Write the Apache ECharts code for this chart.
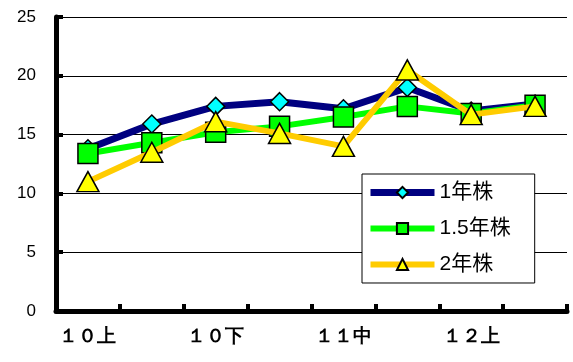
<!DOCTYPE html>
<html>
<head>
<meta charset="utf-8">
<script src="https://cdn.jsdelivr.net/npm/echarts@6/dist/echarts.min.js"></script>
<style>
  html, body { margin: 0; padding: 0; background: #fff; }
  #chart { width: 573px; height: 362px; }
</style>
</head>
<body>
<div id="chart"></div>
<script>
// Period categories (label shown every other period)
const categories = ['１０上', '１０中', '１０下', '１１上', '１１中', '１１下', '１２上', '１２中'];

// Values per planting age
const series1yr  = [13.8, 15.9, 17.4, 17.8, 17.2, 19.0, 17.0, 17.6];
const series15yr = [13.4, 14.3, 15.2, 15.7, 16.5, 17.4, 16.8, 17.5];
const series2yr  = [11.0, 13.5, 16.1, 15.1, 14.0, 20.5, 16.7, 17.4];

const seriesNames = ['1年株', '1.5年株', '2年株'];
const yTicks = [0, 5, 10, 15, 20, 25];

const legendFont = 'Liberation Sans, Arial, Noto Sans CJK JP, sans-serif';

const styles = [
  { line: '#000080', lw: 7, fill: '#00FFFF', symbol: 'diamond', size: 18 },
  { line: '#00FF00', lw: 6, fill: '#00FF00', symbol: 'rect', size: 20 },
  { line: '#FFCC00', lw: 6, fill: '#FFFF00', symbol: 'triangle', size: [22, 20] }
];
const values = [series1yr, series15yr, series2yr];

const chart = echarts.init(document.getElementById('chart'));

chart.setOption({
  animation: false,
  backgroundColor: '#ffffff',
  grid: { left: 56, right: 6, top: 17, bottom: 51, containLabel: false },
  legend: {
    left: 362, top: 174,
    orient: 'vertical',
    backgroundColor: '#ffffff',
    borderColor: '#000000',
    borderWidth: 1,
    borderRadius: 0,
    padding: [8, 24, 8, 5],
    itemWidth: 64,
    itemHeight: 14,
    itemGap: 15,
    textStyle: { fontFamily: legendFont, fontSize: 21, color: '#000' },
    data: seriesNames.map((n, i) => ({
      name: n,
      lineStyle: { color: styles[i].line, width: styles[i].lw }
    }))
  },
  xAxis: {
    type: 'category',
    data: categories,
    boundaryGap: true,
    axisLine: { show: true, lineStyle: { color: '#000', width: 5 } },
    axisTick: { show: true, inside: true, length: 7, interval: 0, lineStyle: { color: '#000', width: 4 } },
    axisLabel: { interval: 1, margin: 16, fontWeight: 'bold', fontSize: 19, color: '#000' },
    splitLine: { show: false }
  },
  yAxis: {
    type: 'value',
    min: yTicks[0],
    max: yTicks[yTicks.length - 1],
    interval: 5,
    axisLine: { show: true, lineStyle: { color: '#000', width: 5 } },
    axisTick: { show: true, inside: true, length: 7, lineStyle: { color: '#000', width: 4 } },
    axisLabel: { fontSize: 17, color: '#000', margin: 20 },
    splitLine: { show: true, lineStyle: { color: '#000', width: 1 } }
  },
  series: seriesNames.map((n, i) => ({
    name: n,
    type: 'line',
    data: values[i],
    z: 2 + i,
    lineStyle: { color: styles[i].line, width: styles[i].lw },
    itemStyle: { color: styles[i].fill, borderColor: '#000', borderWidth: 1.5 },
    symbol: styles[i].symbol,
    symbolSize: styles[i].size
  }))
});
</script>
</body>
</html>
